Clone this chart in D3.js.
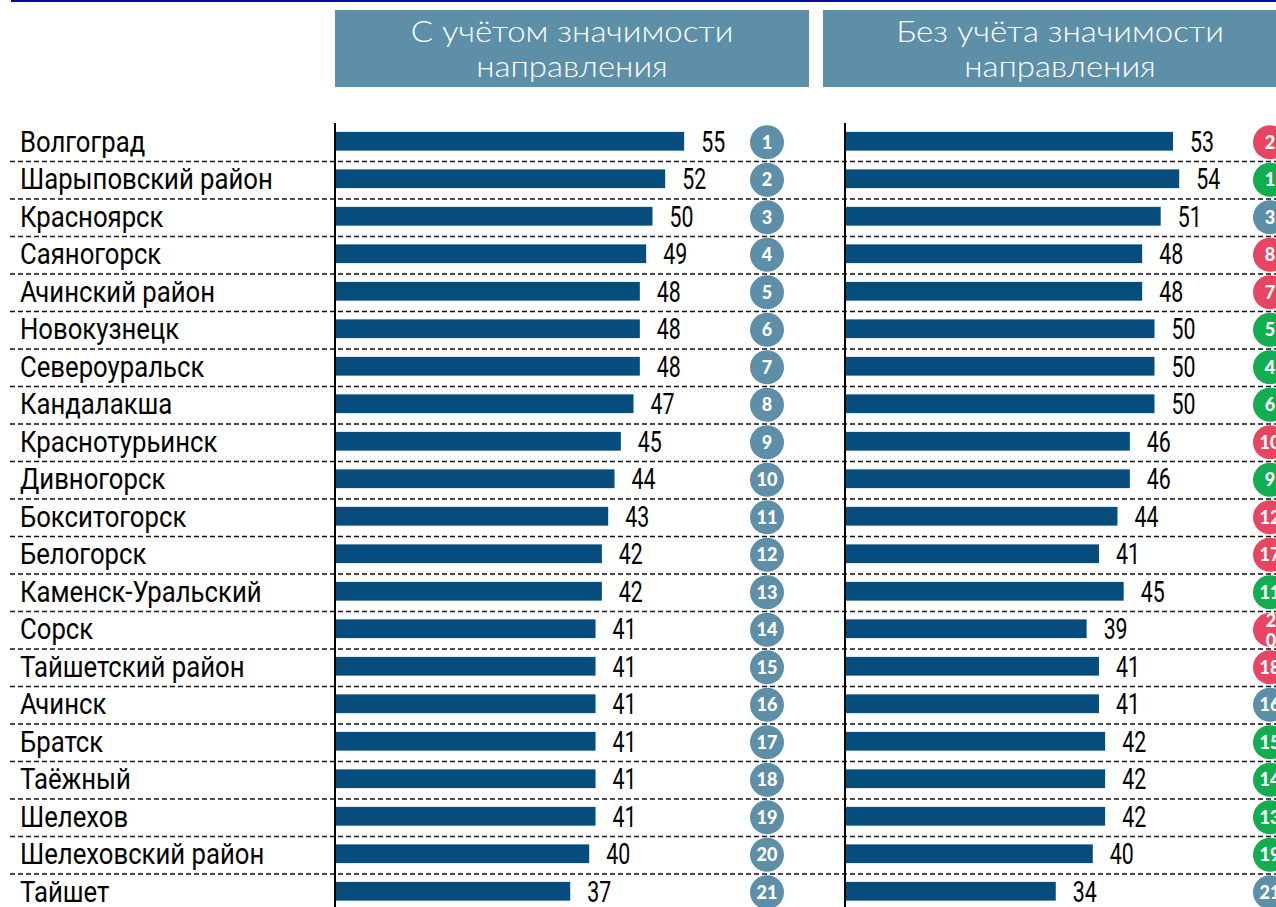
<!DOCTYPE html>
<html lang="ru">
<head>
<meta charset="UTF-8" />
<title>rating</title>
<script src="https://cdn.jsdelivr.net/npm/d3@7"></script>
<style>
  body { margin: 0; background: #fff; }
  .lbl { font-family: "Roboto", sans-serif; }
  .head { font-family: "Lato", "Open Sans", sans-serif; font-weight: 300; }
  .rank { font-family: "Lato", "Open Sans", sans-serif; font-weight: 900; }
</style>
</head>
<body>
<svg id="mainsvg" width="1276" height="907"></svg>
<script>
const cities = ["Волгоград", "Шарыповский район", "Красноярск", "Саяногорск", "Ачинский район",
  "Новокузнецк", "Североуральск", "Кандалакша", "Краснотурьинск", "Дивногорск", "Бокситогорск",
  "Белогорск", "Каменск-Уральский", "Сорск", "Тайшетский район", "Ачинск", "Братск", "Таёжный",
  "Шелехов", "Шелеховский район", "Тайшет"]
const withWeight = [55, 52, 50, 49, 48, 48, 48, 47, 45, 44, 43, 42, 42, 41, 41, 41, 41, 41, 41, 40, 37]
const rankWith = [1, 2, 3, 4, 5, 6, 7, 8, 9, 10, 11, 12, 13, 14, 15, 16, 17, 18, 19, 20, 21]
const withoutWeight = [53, 54, 51, 48, 48, 50, 50, 50, 46, 46, 44, 41, 45, 39, 41, 41, 42, 42, 42, 40, 34]
const rankWithout = [2, 1, 3, 8, 7, 5, 4, 6, 10, 9, 12, 17, 11, 20, 18, 16, 15, 14, 13, 19, 21]
const headers = [["С учётом значимости", "направления"], ["Без учёта значимости", "направления"]]

const svg = d3.select("#mainsvg")
const width = +svg.attr("width")
const height = +svg.attr("height")

const barColor = "#064d7d"
const boxColor = "#5e8fa8"
const upColor = "#11ad4f"
const downColor = "#e84563"

const y = d3.scaleBand().domain(cities).range([124, 124 + 21 * 37.5]).paddingInner(0.5).paddingOuter(0.25)
const step = y.step()
const mid = (c) => y(c) + y.bandwidth() / 2

// the source uses a narrow grotesque: squeeze Roboto horizontally to the same widths
function widthOf(str, size, cls) {
  const t = svg.append("text").attr("class", cls).attr("font-size", size).text(str)
  const w = t.node().getComputedTextLength()
  t.remove()
  return w
}
const cityK = 253 / widthOf("Шарыповский район", 29, "lbl")
const valK = 24 / widthOf("55", 29, "lbl")

// top rule
svg.append("rect").attr("x", 11).attr("y", 0).attr("width", width - 11).attr("height", 2).attr("fill", "#0b0b9a")

const panels = [
  { x0: 336, scale: 6.33, box: 335, values: withWeight, ranks: rankWith, cx: 767, axis: 335 },
  { x0: 846, scale: 6.17, box: 823, values: withoutWeight, ranks: rankWithout, cx: 1270, axis: 845 },
]

// dashed separators
svg.selectAll("line.sep")
  .data(d3.range(1, cities.length + 1))
  .join("line")
  .attr("class", "sep")
  .attr("x1", 10).attr("x2", width)
  .attr("y1", (i) => 124 + i * step).attr("y2", (i) => 124 + i * step)
  .attr("stroke", "#111").attr("stroke-width", 1.3).attr("stroke-dasharray", "5,3")

// city labels
svg.selectAll("text.city")
  .data(cities)
  .join("text")
  .attr("class", "lbl city")
  .attr("transform", (d) => `translate(20,${mid(d) + 9}) scale(${cityK},1)`)
  .attr("font-size", 29)
  .attr("fill", "#000")
  .text((d) => d)

panels.forEach((p, pi) => {
  const x = d3.scaleLinear().domain([0, 100]).range([p.x0, p.x0 + 100 * p.scale])
  const g = svg.append("g")

  // header box
  g.append("rect").attr("x", p.box).attr("y", 10).attr("width", 474).attr("height", 77).attr("fill", boxColor)
  g.append("text").attr("class", "head")
    .attr("transform", `translate(${p.box + 237},0) scale(1.1,1)`)
    .attr("text-anchor", "middle")
    .attr("fill", "#fff").attr("font-size", 30)
    .selectAll("tspan").data(headers[pi]).join("tspan")
    .attr("x", 0).attr("y", (d, i) => 42 + i * 35)
    .text((d) => d)

  const rows = cities.map((c, i) => ({ city: c, v: p.values[i], r: p.ranks[i], ref: rankWith[i] }))

  g.selectAll("rect.bar").data(rows).join("rect")
    .attr("class", "bar")
    .attr("x", x(0)).attr("y", (d) => y(d.city) - 1.5)
    .attr("width", (d) => x(d.v) - x(0)).attr("height", y.bandwidth())
    .attr("fill", barColor)

  g.selectAll("text.val").data(rows).join("text")
    .attr("class", "lbl val")
    .attr("transform", (d) => `translate(${x(d.v) + 17},${mid(d.city) + 9}) scale(${valK},1)`)
    .attr("font-size", 29).attr("fill", "#000")
    .text((d) => d.v)

  // axis line
  g.append("line").attr("x1", p.axis).attr("x2", p.axis).attr("y1", 123).attr("y2", height)
    .attr("stroke", "#000").attr("stroke-width", 2)

  const color = (d) => pi === 0 || d.r === d.ref ? boxColor : d.r < d.ref ? upColor : downColor

  g.selectAll("circle.rk").data(rows).join("circle")
    .attr("class", "rk")
    .attr("cx", p.cx).attr("cy", (d) => mid(d.city) - 0.5)
    .attr("r", 17).attr("fill", color)

  const rt = g.selectAll("text.rk").data(rows).join("text")
    .attr("class", "rank rk")
    .attr("x", p.cx).attr("text-anchor", "middle")
    .attr("y", (d) => mid(d.city) + 6)
    .attr("font-size", 18).attr("fill", "#fff")
  // in the right column "20" does not fit and wraps onto two lines
  rt.each(function (d) {
    const t = d3.select(this)
    if (pi === 1 && d.r === 20) {
      t.attr("y", null)
      t.append("tspan").attr("x", p.cx + 1).attr("y", mid(d.city) - 3).text("2")
      t.append("tspan").attr("x", p.cx + 1).attr("y", mid(d.city) + 17).text("0")
    } else {
      t.text(d.r)
    }
  })
})
</script>
</body>
</html>
